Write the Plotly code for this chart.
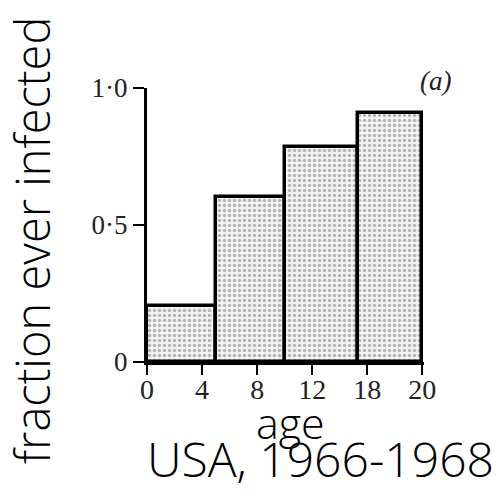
import numpy as np
import plotly.graph_objects as go

# Data
tick_ages = [0, 4, 8, 12, 18, 20]          # tick labels on the (non-linear) age axis
tick_labels = ["0", "4", "8", "12", "18", "20"]
group_start = [0, 5, 10, 17]                # age group lower bounds
group_end = [5, 10, 17, 20]                 # age group upper bounds
fraction = [0.205, 0.602, 0.785, 0.91]      # fraction ever infected
y_ticks = [0, 0.5, 1.0]
y_tick_labels = ["0", "0·5", "1·0"]

# age axis is evenly spaced by tick index
tick_pos = list(range(len(tick_ages)))
lo = np.interp(group_start, tick_ages, tick_pos)
hi = np.interp(group_end, tick_ages, tick_pos)
centers = (lo + hi) / 2
widths = hi - lo

fig = go.Figure()
fig.add_trace(go.Bar(
    x=centers, y=fraction, width=widths,
    marker=dict(
        color="#f4f4f4",
        line=dict(color="black", width=3.5),
        pattern=dict(shape=".", fgcolor="#777777", bgcolor="#f4f4f4",
                     size=5, solidity=0.4, fillmode="overlay"),
    ),
    showlegend=False, hoverinfo="skip",
))

serif = "Liberation Serif"
sans = "Open Sans"

fig.update_layout(
    width=496, height=500,
    margin=dict(l=147, r=72, t=88, b=138),
    paper_bgcolor="white", plot_bgcolor="white",
    bargap=0,
    xaxis=dict(
        range=[0, 5.03], tickmode="array", tickvals=tick_pos, ticktext=tick_labels,
        showgrid=False, zeroline=False, showline=True, linecolor="black", linewidth=3,
        ticks="outside", ticklen=10, tickwidth=2, tickcolor="black",
        tickfont=dict(family=serif, size=28, color="#222"), ticklabelstandoff=-10,
    ),
    yaxis=dict(
        range=[0, 1.0], tickmode="array", tickvals=y_ticks, ticktext=y_tick_labels,
        showgrid=False, zeroline=False, showline=True, linecolor="black", linewidth=3,
        ticks="outside", ticklen=11, tickwidth=2, tickcolor="black",
        tickfont=dict(family=serif, size=27, color="#222"),
    ),
    annotations=[
        dict(text="fraction ever infected", textangle=-90, xref="paper", yref="paper",
             x=(32 - 147) / 277, y=(362 - 241) / 274, xanchor="center", yanchor="middle",
             showarrow=False, font=dict(family=sans, size=47, color="black", weight=300)),
        dict(text="age", xref="paper", yref="paper",
             x=(290 - 147) / 277, y=(362 - 422) / 274, xanchor="center", yanchor="middle",
             showarrow=False, font=dict(family=sans, size=43, color="black", weight=300)),
        dict(text="USA, 1966-1968", xref="paper", yref="paper",
             x=(320 - 147) / 277, y=(362 - 458) / 274, xanchor="center", yanchor="middle",
             showarrow=False, font=dict(family=sans, size=48, color="black", weight=300)),
        dict(text="<i>(a)</i>", xref="paper", yref="paper",
             x=(435 - 147) / 277, y=(362 - 81) / 274, xanchor="center", yanchor="middle",
             showarrow=False, font=dict(family=serif, size=27, color="#222")),
    ],
)

fig.write_html("out.html")
